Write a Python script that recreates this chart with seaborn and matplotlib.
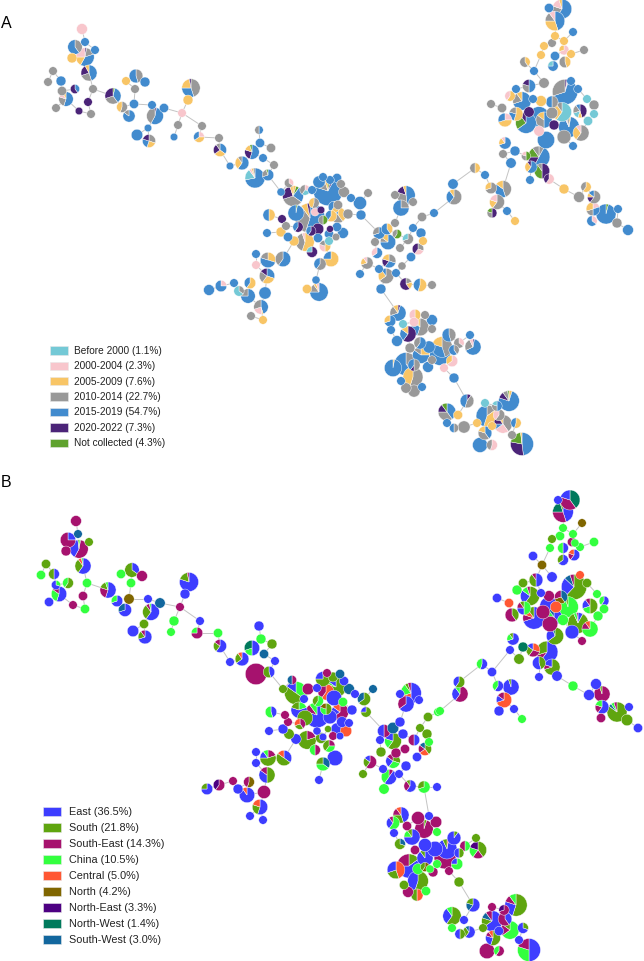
import numpy as np
import pandas as pd
import seaborn as sns
import matplotlib.pyplot as plt
from matplotlib.patches import Patch

# Period panel
period_labels = ['Before 2000 (1.1%)', '2000-2004 (2.3%)', '2005-2009 (7.6%)', '2010-2014 (22.7%)',
                 '2015-2019 (54.7%)', '2020-2022 (7.3%)', 'Not collected (4.3%)']
period_keys = ['a', 'p', 'y', 'g', 'b', 'd', 'n']
period_colors = ['#74C9D6', '#F8C6CC', '#F8C566', '#999999', '#428BCE', '#4B2478', '#5FA22E']

a_x = [82, 85, 95, 75, 85, 72, 89, 53, 48, 61, 75, 93, 62, 66, 56, 88, 79, 91, 113, 122, 134, 129, 135, 126, 136, 145,
       152, 164, 155, 148, 137, 149, 178, 174, 182, 188, 191, 202, 199, 219, 220, 230, 242, 259, 260, 252, 263, 271, 274, 268, 255, 281,
       289, 293, 305, 312, 328, 319, 323, 330, 337, 341, 344, 351, 360, 368, 361, 348, 338, 338, 314, 296, 269, 310, 282, 286, 298, 281, 267, 288, 294, 305, 312, 325, 331, 320, 316, 319, 307, 318, 329, 336, 343, 337, 329, 323, 318, 311, 315, 321, 331, 334, 330,
       283, 268, 256, 256, 267, 250, 234, 239, 248, 265, 261, 251, 263, 221, 209,
       379, 375, 387, 397, 388, 395, 401, 406, 413, 395, 413, 421, 422, 434, 423, 408, 400, 418, 411, 389, 377, 367, 360, 386, 379, 396, 402, 406, 420, 432, 381,
       454, 453, 485, 475, 515, 503, 511, 505, 491, 503, 497, 492, 507, 515, 530, 531, 526, 539, 542, 549, 564, 579, 586, 594, 593, 592, 606, 618, 617, 628,
       562, 549, 555, 555, 573, 564, 552, 544, 564, 571, 584, 541, 555, 565, 553, 525, 534, 544, 529, 516, 510, 491, 502, 505, 516, 522, 533, 541, 552, 565, 571, 578, 587, 594, 580, 594, 588, 562, 539, 529, 526, 544, 554, 569, 581, 564, 546, 539, 573, 552,
       398, 390, 403, 391, 408, 397, 415, 425, 432, 432, 420, 414, 449, 420, 410, 421, 429, 442, 459, 470, 473, 454, 440, 432, 452, 444, 428, 454, 406, 414, 393, 413, 401, 406, 414, 422,
       467, 447, 458, 447, 454, 464, 485, 497, 509, 487, 499, 477, 492, 503, 516, 485, 512, 480, 492, 522]
a_y = [29, 42, 50, 47, 57, 58, 73, 71, 82, 81, 89, 89, 91, 99, 108, 102, 111, 114, 96, 107, 104, 116, 89, 81, 76, 82,
       105, 108, 116, 128, 135, 141, 125, 137, 113, 100, 88, 126, 137, 138, 150, 166, 163, 130, 143, 152, 158, 148, 165, 175, 178, 192,
       183, 196, 190, 190, 191, 182, 177, 180, 178, 184, 192, 198, 203, 193, 215, 214, 205, 215, 203, 213, 215, 218, 219, 226, 227, 232, 233, 237, 241, 242, 252, 246, 259, 264, 280, 292, 289, 238, 241, 237, 233, 227, 234, 220, 229, 231, 212, 210, 216, 207, 229,
       259, 260, 254, 265, 276, 283, 283, 291, 296, 293, 307, 316, 320, 286, 290,
       233, 242, 229, 234, 242, 223, 208, 195, 202, 195, 228, 233, 217, 213, 241, 239, 248, 249, 257, 261, 253, 263, 274, 276, 269, 273, 266, 284, 285, 285, 289,
       197, 184, 175, 168, 151, 154, 163, 143, 188, 189, 202, 213, 211, 221, 180, 167, 156, 157, 171, 179, 189, 197, 187, 197, 209, 221, 214, 209, 223, 230,
       9, 8, 21, 36, 32, 41, 43, 46, 50, 54, 50, 55, 56, 62, 66, 62, 71, 83, 86, 89, 96, 104, 108, 120, 114, 101, 99, 101, 102, 92, 81, 89, 99, 105, 111, 114, 121, 112, 117, 112, 123, 120, 125, 127, 133, 137, 140, 131, 146, 113,
       313, 321, 324, 330, 334, 341, 315, 315, 320, 329, 327, 322, 335, 343, 348, 355, 347, 347, 343, 335, 347, 350, 355, 360, 361, 368, 367, 378, 364, 365, 368, 377, 381, 388, 391, 387,
       401, 412, 415, 423, 428, 427, 403, 406, 401, 416, 415, 423, 426, 424, 423, 433, 435, 445, 445, 444]
a_r = [4.7, 3.7, 3.7, 6.3, 8, 4.3, 7, 3.7, 3.7, 4.3, 4, 3.7, 4, 6.3, 3.7, 3.7, 3.3, 3.7, 7, 4.7, 4, 5.3, 3.7, 3.7, 6, 4.3,
       3.7, 4, 7.3, 3.3, 5, 5.7, 3.7, 3.3, 3.7, 4.3, 8, 3.7, 4.7, 3.7, 5.7, 3.3, 6, 3.7, 4, 6.3, 3.7, 4, 3.7, 5, 8.7, 3.5,
       4, 9, 4.5, 3.7, 12.7, 5.3, 3.7, 3.7, 4, 3.7, 4.7, 3.7, 5.7, 3.7, 4.3, 4.3, 4, 7, 4.5, 7, 5.3, 13, 3.7, 3.7, 4.5, 4.3, 3.7, 4, 4.3, 8, 4.7, 5, 6.7, 5.3, 3.5, 8, 4, 4, 3.7, 3.3, 4.7, 4, 4, 4, 5, 4.3, 3.5, 3.3, 5, 5, 3,
       6.7, 6.7, 3.7, 3.7, 6.7, 5, 3.7, 4.5, 6.3, 5.3, 6.3, 3.7, 3.7, 5, 4.7,
       5.3, 3.7, 5, 4, 6.7, 3.7, 7, 8, 3.7, 3.7, 3.7, 4.3, 4, 3.7, 3.7, 4.7, 3.7, 5, 4, 6, 4.7, 5.3, 3.7, 6.7, 3.7, 3.7, 3.5, 5.3, 5.7, 3.7, 4.3,
       6.7, 4.5, 3.7, 4.5, 4.3, 3.7, 4.5, 5.3, 5, 7.3, 6.5, 4.3, 3.7, 3.7, 3.7, 5.3, 4, 9.5, 6.7, 4.5, 4.3, 4.7, 4.5, 5.7, 6, 4.5, 8.7, 3.7, 4.3, 4.7,
       8.5, 4, 8.5, 3.7, 3.7, 3.7, 3.7, 3.7, 4.3, 3.7, 3.7, 3.7, 4, 5, 4.5, 4.5, 3.7, 4.5, 5.7, 3.7, 4.5, 3.7, 4, 6, 6, 8, 3.7, 4.7, 5.3, 11, 3.7, 3.7, 3.7, 4.3, 6, 3.7, 4, 8.3, 9, 4.5, 9, 7, 4.3, 9, 7, 6, 7.5, 4.5, 3.7, 5,
       7, 5, 3.7, 3.7, 7, 4.7, 5, 3.7, 4.7, 3.7, 7.7, 4, 6, 5.3, 4.3, 7.3, 5.3, 9, 4.5, 3.7, 7, 4.5, 9, 3.7, 5, 3.7, 4.7, 4.3, 10, 5.3, 7.5, 8.7, 3.7, 4.5, 5.3, 3.7,
       6, 7.7, 4, 3.7, 4, 5.3, 3.7, 4.5, 9, 9.5, 5, 3.7, 3.7, 8, 4.5, 6, 3.7, 6.5, 4.7, 10]
a_mix = ['p', 'b', 'b', 'g40 b60', 'd3 g17 b38 y17 p25', 'y', 'b45 g25 d22 y8', 'g', 'g', 'b', 'b40 d60', 'g', 'g', 'b55 g25 p12 y8', 'g', 'd', 'd', 'g', 'n4 b36 g30 d30', 'g55 y45', 'b', 'b85 g15', 'g', 'y', 'g45 b55', 'b',
         'b', 'b', 'd3 b55 g42', 'b', 'b', 'g30 y25 b25 d20', 'g', 'b', 'p', 'y', 'g45 b30 y22 d3', 'g', 'p25 y40 b35', 'g', 'b35 y30 d25 g10', 'b', 'b60 y30 g10', 'b50 g50', 'b', 'b55 d25 y15 n5', 'b', 'g', 'g', 'b70 g25 n5', 'b72 a18 p4 y3 g3', 'b',
         'p35 g65', 'y5 n5 b25 g35 d25 y5', 'p30 a30 g40', 'b', 'n4 d4 b72 g15 y5', 'b', 'b', 'b', 'b', 'g', 'g', 'b', 'b', 'g', 'b', 'g', 'g', 'y40 g50 b10', 'g55 y45', 'n3 b97', 'y50 b50', 'b55 g35 y7 d3', 'd', 'g', 'd60 b40', 'y', 'b', 'b', 'y', 'y55 g40 p5', 'd75 a25', 'y50 p30 g20', 'y75 b25', 'g60 b40', 'b', 'b75 g15 y5 p5', 'y', 'b', 'a', 'g', 'b', 'b', 'b', 'n50 g50', 'd', 'd60 b40', 'p', 'd', 'y60 b40', 'y60 b40', 'd',
         'b60 g40', 'y30 b50 g20', 'b', 'p', 'b30 y30 g25 d15', 'y60 b40', 'b', 'g35 a65', 'b75 g25', 'b', 'b45 y3 p22 g30', 'g', 'y', 'p25 b75', 'b',
         'b70 g30', 'g', 'y40 b60', 'n60 g40', 'b75 g10 y15', 'g', 'g25 b75', 'b48 g32 d15 y5', 'g', 'g', 'b', 'b', 'g', 'b', 'y', 'g70 a30', 'g', 'g30 p30 d40', 'b', 'g30 b30 d20 y20', 'b65 p35', 'g70 y20 p10', 'b', 'g65 y25 b10', 'b', 'b', 'g', 'g20 y20 d60', 'y55 b45', 'g', 'b',
         'g60 b30 y10', 'b', 'b', 'y50 g50', 'b', 'g', 'b', 'b70 y20 p10', 'g70 y30', 'g45 b40 y15', 'g60 y20 p20', 'd50 g30 n20', 'b', 'y', 'b', 'b60 y30 d10', 'n50 g30 p20', 'g8 b50 d17 n15 g10', 'd50 n40 g10', 'p60 d40', 'y', 'g', 'y60 g40', 'g60 d15 y10 b15', 'p20 b30 g20 y30', 'p35 b65', 'n4 b96', 'b', 'g', 'b',
         'b60 g20 p15 y5', 'b', 'b45 y30 g15 p10', 'y', 'b', 'y', 'g', 'y', 'p70 y30', 'y', 'g', 'y', 'b', 'y45 g55', 'b75 a25', 'y40 g60', 'b', 'g', 'b50 g30 d20', 'b', 'y60 p40', 'g', 'g', 'p25 y45 b30', 'y55 b25 g20', 'b70 g20 y10', 'b', 'y', 'g50 b50', 'd3 p2 b65 g30', 'b', 'b', 'a', 'g', 'd45 y10 a15 g20 b10', 'a', 'a', 'a60 y30 g10', 'b', 'd', 'b65 n25 d10', 'b50 g35 y15', 'd', 'y3 b90 p3 g4', 'g60 y30 p10', 'g', 'b', 'p', 'b', 'g',
         'd5 b65 g20 y10', 'b70 y30', 'a', 'b', 'd60 b25 y15', 'b', 'y50 p50', 'g', 'b', 'g', 'g55 b30 n5 y10', 'p', 'g45 b55', 'b60 g40', 'g', 'y25 b60 g15', 'b', 'g45 b35 y20', 'p35 g65', 'b', 'd3 b65 g25 p7', 'g40 b60', 'b', 'g', 'p65 y35', 'p', 'b', 'b', 'g35 d5 b60', 'g50 d10 b40', 'y3 b97', 'g55 y45', 'b', 'g', 'g', 'b',
         'd10 g45 b45', 'b40 g35 d15 n10', 'y', 'b', 'g50 b50', 'g', 'a', 'b50 g30 a20', 'y5 b75 d10 g8 n2', 'g15 y40 b45', 'g60 p40', 'y', 'y', 'g40 p25 b10 d15 y10', 'y55 b45', 'b40 g40 y20', 'g', 'b', 'p55 g45', 'b48 d30 n20 y2']

# Region panel
region_labels = ['East (36.5%)', 'South (21.8%)', 'South-East (14.3%)', 'China (10.5%)', 'Central (5.0%)',
                 'North (4.2%)', 'North-East (3.3%)', 'North-West (1.4%)', 'South-West (3.0%)']
region_keys = ['e', 's', 't', 'c', 'r', 'o', 'u', 'w', 'v']
region_colors = ['#3D3DFF', '#5FA50F', '#A6126E', '#33FF3F', '#FF5733', '#806600', '#4D0082', '#007A5C', '#12679E']

b_x = [76, 78, 68, 89, 66, 79, 83, 46, 41, 54, 68, 87, 56, 59, 49, 83, 73, 85, 108, 117, 129, 125, 131, 121, 132, 142, 148, 160, 151, 144, 133, 145, 174, 171, 180, 185, 189, 200, 197, 218, 220, 230, 242, 259, 261, 252, 272, 264, 275, 256, 269, 283,
       292, 296, 308, 317, 323, 327, 333, 340, 344, 336, 349, 355, 364, 373, 366, 352, 343, 340, 326, 334, 318, 304, 299, 317, 305, 326, 271, 285, 288, 300, 283, 269, 289, 296, 307, 321, 315, 329, 335, 323, 317, 323, 333, 340, 328, 337, 346, 342, 349, 330, 319,
       256, 256, 268, 284, 267, 249, 233, 219, 207, 238, 247, 264, 260, 250, 263,
       384, 380, 381, 370, 363, 383, 389, 399, 393, 406, 396, 405, 417, 414, 425, 429, 427, 420, 393, 400, 393, 403, 428, 438, 406, 400, 419, 411, 410, 424, 437, 384,
       570, 558, 563, 563, 582, 560, 573, 552, 572, 575, 594, 580, 550, 563, 574, 563, 533, 542, 552, 580, 574, 587, 523, 536, 517, 530, 541, 549, 561, 597, 604, 604, 590, 598, 568, 556, 549, 543, 497, 509, 512, 524, 534, 554, 563, 550, 578, 590, 572, 582, 555,
       513, 523, 510, 519, 533, 547, 539, 552, 539, 557, 573, 589, 596, 602, 602, 617, 629, 601, 627, 638,
       482, 492, 459, 460, 440, 498, 511, 504, 499, 514, 522,
       401, 393, 394, 400, 407, 418, 429, 436, 437, 424, 412, 415, 425, 425, 435, 454, 447, 445, 465, 476, 478, 459, 457, 449, 459, 409, 396, 418, 430, 425, 433, 437, 418, 404, 408, 417, 426,
       473, 492, 504, 516, 452, 464, 452, 460, 469, 492, 505, 510, 483, 499, 523, 493, 519, 487, 499, 529]
b_y = [521, 534, 540, 542, 551, 549, 566, 564, 575, 574, 583, 583, 585, 594, 602, 596, 605, 609, 590, 601, 599, 610, 583, 574, 570, 576, 599, 603, 612, 624, 631, 637, 621, 632, 607, 594, 582, 621, 633, 633, 646, 662, 659, 626, 639, 648, 644, 654, 661, 674, 672, 689,
       680, 693, 689, 688, 679, 673, 677, 674, 681, 687, 689, 694, 699, 689, 712, 710, 702, 712, 692, 698, 701, 699, 710, 715, 718, 709, 712, 715, 722, 724, 729, 731, 734, 739, 740, 738, 750, 746, 758, 764, 731, 737, 736, 736, 729, 729, 731, 722, 723, 717, 780,
       752, 763, 758, 758, 775, 782, 781, 785, 789, 789, 795, 792, 807, 816, 820,
       731, 740, 752, 762, 774, 769, 777, 774, 761, 766, 753, 749, 757, 740, 749, 742, 734, 728, 741, 722, 728, 734, 717, 712, 704, 694, 700, 693, 786, 787, 787, 789,
       500, 500, 512, 528, 523, 536, 534, 539, 542, 543, 542, 547, 548, 548, 555, 560, 556, 565, 577, 575, 587, 583, 583, 580, 590, 596, 593, 596, 597, 594, 601, 609, 606, 616, 607, 607, 606, 612, 598, 603, 615, 608, 618, 617, 620, 624, 623, 629, 632, 641, 636,
       639, 647, 650, 659, 650, 652, 663, 667, 677, 676, 686, 695, 684, 694, 707, 712, 707, 718, 720, 728,
       664, 672, 682, 694, 711, 686, 687, 700, 711, 709, 719,
       815, 823, 833, 844, 826, 818, 816, 822, 832, 829, 837, 850, 845, 858, 849, 838, 849, 858, 846, 838, 850, 853, 864, 871, 882, 866, 870, 869, 869, 867, 872, 864, 881, 885, 892, 895, 891,
       905, 907, 910, 905, 916, 920, 928, 934, 932, 921, 919, 930, 928, 931, 928, 938, 940, 951, 951, 950]
b_r = [4.7, 3.7, 6.7, 3.7, 4.3, 8, 7, 4, 4, 4.7, 4.7, 4, 4, 6.7, 4, 4, 3.7, 4, 7, 5, 4.5, 5.7, 4, 4, 6.3, 4.7, 3.7, 4.5, 7.3, 4, 5, 6, 4.3, 3.7, 3.7, 4.3, 8.3, 3.7, 5, 4, 5.7, 3.7, 6, 4.3, 4.3, 6.7, 4.3, 4, 3.7, 9.3, 5, 3.7,
       4, 10, 5, 3.7, 6.5, 3.7, 4.3, 4, 4, 9, 4.7, 3.7, 5.7, 3.7, 4.5, 4.3, 4, 7.5, 7, 6.7, 4.7, 3.7, 7, 11, 6.7, 5, 5, 3.7, 3.7, 4.7, 4.3, 3.7, 4.5, 4.5, 8, 4.7, 4.7, 5.3, 6.7, 6, 3.5, 3.3, 3.7, 3.3, 3, 5.3, 5, 4.7, 3.7, 6, 3.7,
       3.7, 3.7, 7, 6.7, 7, 4.7, 3.7, 5, 5, 4.3, 6.7, 5.7, 6.7, 3.7, 3.7,
       5.7, 3.7, 4.3, 5.7, 3.7, 3.7, 6.7, 3.7, 6.3, 4.3, 4.3, 4, 4, 5, 5.7, 3.7, 4.3, 3.7, 7.3, 4.3, 5, 4.3, 4, 3.7, 7, 3.7, 3.7, 9, 5.3, 5.3, 3.7, 4.5,
       8.7, 3.7, 9, 3.7, 3.7, 4, 3.7, 3.7, 4, 3.5, 4, 3.7, 3.7, 4.7, 5, 4.7, 4, 4, 4.5, 3.7, 11, 4, 4, 6, 4.3, 8.3, 3.7, 4.7, 5.7, 3.7, 4.3, 4, 6.7, 4.3, 9, 5, 8, 6, 4, 4, 6, 6, 9.7, 7, 4.7, 6.7, 9, 7, 6, 3.7, 7.5,
       5.3, 4.3, 3.7, 4.5, 6, 9.5, 5.7, 7, 3.7, 4.5, 4.3, 4.7, 4.7, 7, 6, 8.7, 3.7, 4, 5, 4,
       4.7, 4, 5, 7, 3.7, 4.7, 7, 6.7, 4.3, 3.7, 3.7,
       7, 5.7, 3.7, 4.7, 4, 5.7, 3.7, 5, 3.7, 8, 7, 4, 5.7, 7, 6.7, 6, 8.7, 9.5, 4.5, 3.7, 7.5, 4.3, 5, 3.7, 4.3, 10.5, 7.7, 4.7, 3.5, 4, 4.3, 3.7, 9, 4, 4.7, 5.3, 4,
       6, 3.7, 4.5, 9.7, 8, 3.7, 3.7, 4.5, 5.3, 9, 6, 8, 3.7, 4, 4.7, 6.5, 3.7, 6.7, 4.5, 10]
b_mix = ['t', 'v', 'e25 t75', 's', 't', 'c3 t55 e40 s2', 'e60 s30 r7 c3', 's', 'c', 'e50 s50', 's60 c40', 'c', 'c30 e70', 'e55 c30 t15', 'e', 't', 't', 'c', 'e55 t25 s15 c5', 'e70 c30', 'o', 'e70 v30', 'c', 'c', 'e35 s65', 't', 'e', 'v', 'e60 s30 t7 c3', 's', 'e', 'e70 s20 t10', 'c', 'c', 't', 'e', 'e80 s17 t3', 'e', 't75 c25', 'c', 'e60 s25 t15', 'e', 'e65 s25 r10', 'e', 'c', 'e50 c20 w30', 's', 'v', 'e', 't', 'e45 s55', 's',
         't50 v50', 'c35 s50 e15', 't', 'e', 's75 e25', 't', 's', 'v', 'e', 's80 c5 e15', 'v', 'e', 's65 v35', 'v', 's75 e25', 'e', 'c', 't65 e20 r15', 'r60 t40', 'e', 'c60 s40', 'e', 'c20 e60 s20', 'e80 t10 c10', 's', 's50 c30 o20', 'e45 c55', 't', 't', 't40 s30 r30', 'e', 'e', 's', 'e', 't20 s80', 's', 't50 c50', 't25 c35 s40', 'e', 'v35 c40 s25', 'e', 'e', 't', 'e', 's', 'e', 'r', 'e', 'e', 'e', 'e',
         'e', 'e', 't20 s55 e15 c10', 'e35 s50 r15', 's50 e35 t15', 'o55 t45', 't', 't60 u40', 'e75 s25', 'e', 'e90 r10', 't', 'e55 s25 r20', 'e', 'e',
         't50 e50', 'e', 's', 't60 s25 e15', 's', 'e', 't10 e50 c40', 'e', 's30 c30 e25 t15', 'e', 't', 't', 'e', 'e50 t50', 's40 r25 t20 v15', 'c', 's', 's', 's60 c20 e20', 'e', 'v', 'e', 's', 'c', 'e65 t35', 'e', 'e', 'e50 r20 c20 s5 t5', 'e60 t30 s10', 'c70 s30', 'e', 'c',
         'w40 t40 e20', 'e', 'e45 t30 w20 s5', 'c', 'o', 'c', 'c', 's', 't', 'c', 'c', 'c', 'c', 'e50 c50', 'e60 t20 r20', 'e65 s35', 'e', 'o', 'e', 'r', 's62 e25 v8 t5', 's', 's', 'e50 s40 t10', 'c', 's60 e25 c10 t5', 'e', 't', 'v40 o30 t30', 'c', 'e60 c40', 'c', 's50 c20 e20 t10', 'c', 'c95 s5', 'r', 'e', 't', 'e', 'r', 's40 t60', 'c50 e25 t15 s10', 'e70 t10 r10 s10', 'e45 s30 c15 v10', 'c', 't', 'e8 s85 c5 t2', 'c75 t15 r10', 'e', 't', 's65 e30 w5',
         'e70 c20 s10', 'w', 'e', 's', 'r30 t30 s25 e15', 'e60 t10 s30', 's45 e55', 's70 t10 e20', 'e', 'e', 'c', 'e', 'e', 't95 s5', 'e60 t20 c20', 's85 v5 c5 t5', 'e', 't', 's', 'e',
         'e55 c45', 'e', 's60 e40', 't60 e30 c10', 'c', 'e60 c40', 'e95 s5', 'r70 e15 t15', 'e', 'e', 'c',
         'e45 s30 t15 r10', 'c60 e30 t10', 'e', 'v30 s70', 't', 't', 'e', 't', 'c', 's5 t95', 'e75 c15 s10', 't', 'e', 'e90 s10', 'e', 's10 e90', 'r3 e90 s7', 't', 'c50 t50', 's', 's40 t20 c20 u20', 's50 e50', 'c75 e25', 't', 's', 's15 e60 t25', 'r45 s25 e30', 'c', 'c', 'o60 s40', 't', 'c', 's55 e45', 's', 't', 'r50 s50', 'c',
         'e60 v20 s20', 't', 't70 u30', 's55 e25 t10 c10', 's60 e30 c10', 'e', 'c', 's50 e50', 'e60 s30 v10', 'e65 s15 v10 t10', 'e40 t60', 'c65 t20 s15', 's', 'e', 's30 e70', 's55 e25 t10 r10', 'e', 't', 't60 c40', 'e50 c30 t20']

assert len(a_x) == len(a_y) == len(a_r) == len(a_mix), (len(a_x), len(a_y), len(a_r), len(a_mix))
assert len(b_x) == len(b_y) == len(b_r) == len(b_mix), (len(b_x), len(b_y), len(b_r), len(b_mix))

node_scale = 1.15


def spanning_edges(x, y):
    # the network is a minimum spanning tree so link nearest nodes
    pts = np.column_stack([x, y]).astype(float)
    dist = np.full(len(pts), np.inf)
    link = np.zeros(len(pts), dtype=int)
    done = np.zeros(len(pts), dtype=bool)
    cur = 0
    rows = []
    for k in range(len(pts)):
        done[cur] = True
        if k > 0:
            rows.append(dict(edge=k, x=pts[cur, 0], y=pts[cur, 1]))
            rows.append(dict(edge=k, x=pts[link[cur], 0], y=pts[link[cur], 1]))
        d = np.hypot(*(pts - pts[cur]).T)
        closer = (d < dist) & ~done
        dist[closer] = d[closer]
        link[closer] = cur
        rest = np.where(~done)[0]
        if len(rest) == 0:
            break
        cur = rest[np.argmin(dist[rest])]
    return pd.DataFrame(rows)


def draw_network(ax, x, y, r, mix, keys, colors, top, bottom):
    color_of = dict(zip(keys, colors))
    edges = spanning_edges(x, y)
    sns.lineplot(data=edges, x='x', y='y', units='edge', estimator=None, sort=False,
                 color='#c4c4c4', linewidth=0.7, legend=False, ax=ax, zorder=1)
    # biggest first so small nodes sit on top
    for i in np.argsort(r)[::-1]:
        parts = mix[i].split()
        names = [p[0] for p in parts]
        vals = [float(p[1:]) if len(p) > 1 else 1.0 for p in parts]
        ax.pie(vals, colors=[color_of[n] for n in names], center=(x[i], y[i]), radius=r[i] * node_scale,
               startangle=270, counterclock=True,
               wedgeprops=dict(edgecolor='white', linewidth=0.3, zorder=2 + (20 - r[i])))
    ax.set_xlim(0, 644)
    ax.set_ylim(bottom, top)
    ax.set_xlabel('')
    ax.set_ylabel('')
    ax.axis('off')


sns.set_theme(style='white')
plt.rcParams['font.family'] = ['Liberation Sans', 'DejaVu Sans']

fig = plt.figure(figsize=(6.44, 9.61), dpi=100)
split = 470 / 961
ax_a = fig.add_axes([0, 1 - split, 1, split])
ax_b = fig.add_axes([0, 0, 1, 1 - split])

draw_network(ax_a, a_x, a_y, a_r, a_mix, period_keys, period_colors, 0, 470)
draw_network(ax_b, b_x, b_y, b_r, b_mix, region_keys, region_colors, 470, 961)

handles_a = [Patch(facecolor=c, edgecolor='#e8e8e8', linewidth=0.4) for c in period_colors]
ax_a.legend(handles_a, period_labels, loc='upper left', bbox_to_anchor=(50.5, 346), bbox_transform=ax_a.transData,
            frameon=False, fontsize=7.3, labelcolor='#222222', borderpad=0, borderaxespad=0,
            handlelength=1.68, handleheight=0.9, handletextpad=0.68, labelspacing=0.53)

handles_b = [Patch(facecolor=c, edgecolor='#e8e8e8', linewidth=0.4) for c in region_colors]
ax_b.legend(handles_b, region_labels, loc='upper left', bbox_to_anchor=(43, 807), bbox_transform=ax_b.transData,
            frameon=False, fontsize=7.8, labelcolor='#222222', borderpad=0, borderaxespad=0,
            handlelength=1.68, handleheight=0.9, handletextpad=0.68, labelspacing=0.53)

ax_a.text(0.5, 24, 'A', fontsize=11.5, color='black', va='center', ha='left')
ax_b.text(0.5, 482, 'B', fontsize=11.5, color='black', va='center', ha='left')

fig.savefig('out.png', dpi=100)
